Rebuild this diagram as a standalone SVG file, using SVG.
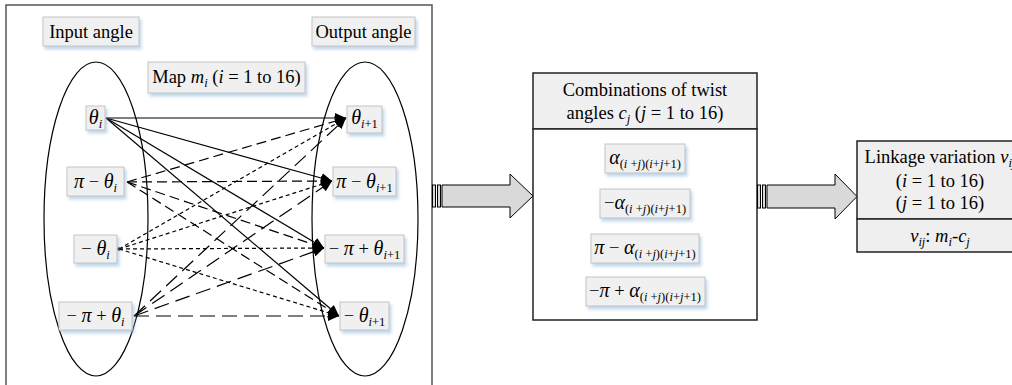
<svg xmlns="http://www.w3.org/2000/svg" width="1012" height="385" viewBox="0 0 1012 385">
<defs>
<filter id="sh" x="-20%" y="-20%" width="150%" height="160%">
<feDropShadow dx="2" dy="3" stdDeviation="1.8" flood-color="#8fb8e0" flood-opacity="0.55"/>
</filter>
<marker id="ah" markerUnits="userSpaceOnUse" markerWidth="12" markerHeight="10" refX="11" refY="5" orient="auto">
<path d="M0,0 L11,5 L0,10 Z" fill="#000"/>
</marker>
<style>
text{font-family:"Liberation Serif","Times New Roman",serif;font-size:18.5px;fill:#000}
.it{font-style:italic}
.g{font-style:italic;font-size:20px}
.sb{font-size:12.5px}
.nb{fill:#f0f0f0;stroke:#c4c4c4;stroke-width:1}
.frame{fill:none;stroke:#555;stroke-width:1.5}
.ell{fill:none;stroke:#000;stroke-width:1.2}
.c{fill:none;stroke:#000;stroke-width:1.2}
.s2{stroke-dasharray:10 5}
.s3{stroke-dasharray:4 3}
.s4{stroke-dasharray:15 7}
.arr{fill:#d9d9d9;stroke:#000;stroke-width:1}
.box{stroke:#222;stroke-width:1.5}
</style>
</defs>
<rect width="1012" height="385" fill="#fff"/>

<g id="mapFrame">
<rect class="frame" x="6" y="5" width="426" height="400"/>
<ellipse class="ell" cx="96" cy="219" rx="52" ry="157"/>
<ellipse class="ell" cx="365" cy="219" rx="53" ry="157"/>
</g>

<g id="inputLabel">
<rect class="nb" filter="url(#sh)" x="43" y="17" width="96" height="29"/>
<text x="91" y="38" text-anchor="middle">Input angle</text>
</g>
<g id="outputLabel">
<rect class="nb" filter="url(#sh)" x="312" y="17" width="103" height="29"/>
<text x="363.5" y="38" text-anchor="middle">Output angle</text>
</g>
<g id="mapLabel">
<rect class="nb" filter="url(#sh)" x="148" y="62" width="157" height="31"/>
<text x="226.5" y="83" text-anchor="middle">Map <tspan class="it">m</tspan><tspan class="it sb" dy="4">i</tspan><tspan dy="-4"> (</tspan><tspan class="it">i</tspan> = 1 to 16)</text>
</g>

<g id="connectors">
<line class="c" x1="106" y1="118" x2="346" y2="118" marker-end="url(#ah)"/>
<line class="c" x1="106" y1="118" x2="332" y2="181" marker-end="url(#ah)"/>
<line class="c" x1="106" y1="118" x2="324" y2="248" marker-end="url(#ah)"/>
<line class="c" x1="106" y1="118" x2="339" y2="316" marker-end="url(#ah)"/>
<line class="c s2" x1="127" y1="182" x2="346" y2="118" marker-end="url(#ah)"/>
<line class="c s2" x1="127" y1="182" x2="332" y2="181" marker-end="url(#ah)"/>
<line class="c s2" x1="127" y1="182" x2="324" y2="248" marker-end="url(#ah)"/>
<line class="c s2" x1="127" y1="182" x2="339" y2="316" marker-end="url(#ah)"/>
<line class="c s3" x1="119" y1="249" x2="346" y2="118" marker-end="url(#ah)"/>
<line class="c s3" x1="119" y1="249" x2="332" y2="181" marker-end="url(#ah)"/>
<line class="c s3" x1="119" y1="249" x2="324" y2="248" marker-end="url(#ah)"/>
<line class="c s3" x1="119" y1="249" x2="339" y2="316" marker-end="url(#ah)"/>
<circle cx="119" cy="249" r="1.8" fill="#000"/>
<line class="c s4" x1="134" y1="316" x2="346" y2="118" marker-end="url(#ah)"/>
<line class="c s4" x1="134" y1="316" x2="332" y2="181" marker-end="url(#ah)"/>
<line class="c s4" x1="134" y1="316" x2="324" y2="248" marker-end="url(#ah)"/>
<line class="c s4" x1="134" y1="316" x2="339" y2="316" marker-end="url(#ah)"/>
</g>

<g id="in1">
<rect class="nb" filter="url(#sh)" x="86" y="106" width="19" height="24"/>
<text x="95.5" y="124" text-anchor="middle"><tspan class="g">θ</tspan><tspan class="it sb" dy="4">i</tspan></text>
</g>
<g id="in2">
<rect class="nb" filter="url(#sh)" x="67" y="167" width="57" height="29"/>
<text x="95.5" y="188" text-anchor="middle"><tspan class="g">π</tspan> − <tspan class="g">θ</tspan><tspan class="it sb" dy="4">i</tspan></text>
</g>
<g id="in3">
<rect class="nb" filter="url(#sh)" x="74" y="235" width="43" height="28"/>
<text x="95.5" y="255" text-anchor="middle">− <tspan class="g">θ</tspan><tspan class="it sb" dy="4">i</tspan></text>
</g>
<g id="in4">
<rect class="nb" filter="url(#sh)" x="59" y="302" width="73" height="28"/>
<text x="95.5" y="322" text-anchor="middle">− <tspan class="g">π</tspan> + <tspan class="g">θ</tspan><tspan class="it sb" dy="4">i</tspan></text>
</g>

<g id="out1">
<rect class="nb" filter="url(#sh)" x="347" y="106" width="35" height="27"/>
<text x="364.5" y="124" text-anchor="middle"><tspan class="g">θ</tspan><tspan class="sb" dy="4"><tspan class="it">i</tspan>+1</tspan></text>
</g>
<g id="out2">
<rect class="nb" filter="url(#sh)" x="333" y="167" width="63" height="29"/>
<text x="364.5" y="188" text-anchor="middle"><tspan class="g">π</tspan> − <tspan class="g">θ</tspan><tspan class="sb" dy="4"><tspan class="it">i</tspan>+1</tspan></text>
</g>
<g id="out3">
<rect class="nb" filter="url(#sh)" x="325" y="235" width="79" height="28"/>
<text x="364.5" y="255" text-anchor="middle">− <tspan class="g">π</tspan> + <tspan class="g">θ</tspan><tspan class="sb" dy="4"><tspan class="it">i</tspan>+1</tspan></text>
</g>
<g id="out4">
<rect class="nb" filter="url(#sh)" x="340" y="302" width="49" height="28"/>
<text x="364.5" y="322" text-anchor="middle">− <tspan class="g">θ</tspan><tspan class="sb" dy="4"><tspan class="it">i</tspan>+1</tspan></text>
</g>

<g id="arrow1">
<rect class="arr" x="432.5" y="185" width="3" height="22" fill="#666"/>
<rect class="arr" x="437.5" y="185" width="3" height="22"/>
<path class="arr" d="M442,185 L510,185 L510,174 L533,196 L510,218 L510,207 L442,207 Z"/>
</g>

<g id="twistBox">
<rect class="box" x="533" y="73" width="224" height="56" fill="#f0f0f0"/>
<rect class="box" x="533" y="129" width="224" height="191" fill="#fff"/>
<text x="645" y="96" text-anchor="middle">Combinations of twist</text>
<text x="645" y="119" text-anchor="middle">angles <tspan class="it">c</tspan><tspan class="it sb" dy="4">j</tspan><tspan dy="-4"> (</tspan><tspan class="it">j</tspan> = 1 to 16)</text>
</g>
<g id="c1">
<rect class="nb" filter="url(#sh)" x="605" y="144" width="80" height="29"/>
<text x="645" y="164" text-anchor="middle"><tspan class="g">α</tspan><tspan class="sb" dy="4">(<tspan class="it">i</tspan> +<tspan class="it">j</tspan>)(<tspan class="it">i</tspan>+<tspan class="it">j</tspan>+1)</tspan></text>
</g>
<g id="c2">
<rect class="nb" filter="url(#sh)" x="600" y="189" width="90" height="29"/>
<text x="645" y="209" text-anchor="middle">−<tspan class="g">α</tspan><tspan class="sb" dy="4">(<tspan class="it">i</tspan> +<tspan class="it">j</tspan>)(<tspan class="it">i</tspan>+<tspan class="it">j</tspan>+1)</tspan></text>
</g>
<g id="c3">
<rect class="nb" filter="url(#sh)" x="591" y="234" width="108" height="29"/>
<text x="645" y="254" text-anchor="middle"><tspan class="g">π</tspan> − <tspan class="g">α</tspan><tspan class="sb" dy="4">(<tspan class="it">i</tspan> +<tspan class="it">j</tspan>)(<tspan class="it">i</tspan>+<tspan class="it">j</tspan>+1)</tspan></text>
</g>
<g id="c4">
<rect class="nb" filter="url(#sh)" x="586" y="277" width="119" height="29"/>
<text x="645" y="297" text-anchor="middle">−<tspan class="g">π</tspan> + <tspan class="g">α</tspan><tspan class="sb" dy="4">(<tspan class="it">i</tspan> +<tspan class="it">j</tspan>)(<tspan class="it">i</tspan>+<tspan class="it">j</tspan>+1)</tspan></text>
</g>

<g id="arrow2">
<rect class="arr" x="757.5" y="185" width="3" height="23" fill="#666"/>
<rect class="arr" x="762.5" y="185" width="3" height="23"/>
<path class="arr" d="M767,185 L835,185 L835,174 L857,196.5 L835,219 L835,208 L767,208 Z"/>
</g>

<g id="linkageBox">
<rect class="box" x="857" y="141" width="170" height="78" fill="#efefef"/>
<rect class="box" x="857" y="219" width="170" height="33" fill="#efefef"/>
<text x="940" y="163" text-anchor="middle">Linkage variation <tspan class="it">v</tspan><tspan class="it sb" dy="4">ij</tspan></text>
<text x="940" y="187" text-anchor="middle">(<tspan class="it">i</tspan> = 1 to 16)</text>
<text x="940" y="209" text-anchor="middle">(<tspan class="it">j</tspan> = 1 to 16)</text>
<text x="940" y="242" text-anchor="middle"><tspan class="it">v</tspan><tspan class="it sb" dy="4">ij</tspan><tspan dy="-4">: </tspan><tspan class="it">m</tspan><tspan class="it sb" dy="4">i</tspan><tspan dy="-4">-</tspan><tspan class="it">c</tspan><tspan class="it sb" dy="4">j</tspan></text>
</g>
</svg>
